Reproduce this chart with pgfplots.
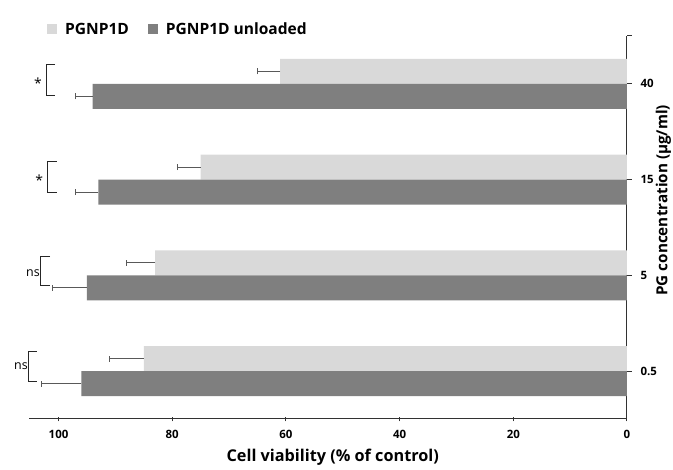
\documentclass[border=0pt]{standalone}
\usepackage{fontspec}
\setmainfont{Open Sans}
\usepackage{pgfplots}
\pgfplotsset{compat=1.18}
\definecolor{lightbar}{RGB}{217,217,217}
\definecolor{darkbar}{RGB}{127,127,127}
\definecolor{errgray}{RGB}{89,89,89}
\definecolor{axgray}{RGB}{50,50,50}

\begin{document}
\begin{tikzpicture}
\useasboundingbox (-29bp,-51bp) rectangle (644bp,419bp);
\begin{axis}[
    at={(0,0)}, anchor=south west,
    scale only axis, width=598bp, height=383bp,
    xbar, bar width=25bp,
    x dir=reverse,
    xmin=0, xmax=105.2,
    ymin=-0.5, ymax=3.5,
    axis x line*=bottom, axis y line*=right,
    axis line style={axgray, line width=1bp},
    every tick/.style={axgray, line width=1bp},
    xtick={0,20,40,60,80,100},
    ytick={0,1,2,3},
    yticklabels={0.5,5,15,40},
    extra y ticks={3.5}, extra y tick labels={},
    xtick align=center, ytick align=outside,
    major tick length=5bp,
    ticklabel style={font=\fontsize{11.5}{14}\selectfont\bfseries},
    xticklabel style={yshift=-5bp},
    yticklabel style={xshift=5bp},
    /pgf/number format/assume math mode=true,
    xlabel={Cell viability (\% of control)},
    xlabel style={font=\fontsize{16.3}{19}\selectfont\bfseries, at={(axis description cs:0.508,0)}, yshift=-38bp, anchor=center},
    ylabel={PG concentration (µg/ml)},
    ylabel style={font=\fontsize{15.3}{18}\selectfont\bfseries, at={(axis description cs:1.061,0.571)}, anchor=center},
    clip=false,
    legend columns=2,
    legend style={at={(axis description cs:0.03,1.017)}, anchor=west, draw=none, fill=none,
        font=\fontsize{15.6}{18}\selectfont\bfseries, inner sep=0pt,
        /tikz/every even column/.append style={column sep=17bp}},
    legend image code/.code={\fill[#1] (0bp,-5bp) rectangle (10bp,5bp); \path (16bp,0bp);},
    error bars/error bar style={errgray, line width=0.9bp},
    error bars/error mark options={errgray, line width=0.9bp, mark size=3bp, rotate=90},
]
\addplot[fill=lightbar, draw=none, bar shift=12.5bp,
    error bars/.cd, x dir=plus, x explicit]
    coordinates {(85,0) +- (6,0) (83,1) +- (5,0) (75,2) +- (4,0) (61,3) +- (4,0)};
\addlegendentry{PGNP1D}
\addplot[fill=darkbar, draw=none, bar shift=-12.5bp,
    error bars/.cd, x dir=plus, x explicit]
    coordinates {(96,0) +- (7,0) (95,1) +- (6,0) (93,2) +- (4,0) (94,3) +- (3,0)};
\addlegendentry{PGNP1D unloaded}

% significance brackets
\draw[black!85, line width=1bp] (axis cs:100.6,3.2) -- (axis cs:102.1,3.2) -- (axis cs:102.1,2.88) -- (axis cs:100.6,2.88);
\node[font=\fontsize{14}{16}\selectfont] at (axis cs:103.6,3.01) {*};
\draw[black!85, line width=1bp] (axis cs:100.3,2.19) -- (axis cs:101.9,2.19) -- (axis cs:101.9,1.87) -- (axis cs:100.3,1.87);
\node[font=\fontsize{14}{16}\selectfont] at (axis cs:103.4,1.99) {*};
\draw[black!85, line width=1bp] (axis cs:101.5,1.2) -- (axis cs:103.1,1.2) -- (axis cs:103.1,0.89) -- (axis cs:101.5,0.89);
\node[font=\fontsize{12.5}{15}\selectfont, anchor=east, inner sep=1bp] at (axis cs:103.1,1.02) {ns};
\draw[black!85, line width=1bp] (axis cs:103.8,0.2) -- (axis cs:105.2,0.2) -- (axis cs:105.2,-0.11) -- (axis cs:103.8,-0.11);
\node[font=\fontsize{12.5}{15}\selectfont, anchor=east, inner sep=1bp] at (axis cs:105.2,0.05) {ns};
\end{axis}
\end{tikzpicture}
\end{document}
